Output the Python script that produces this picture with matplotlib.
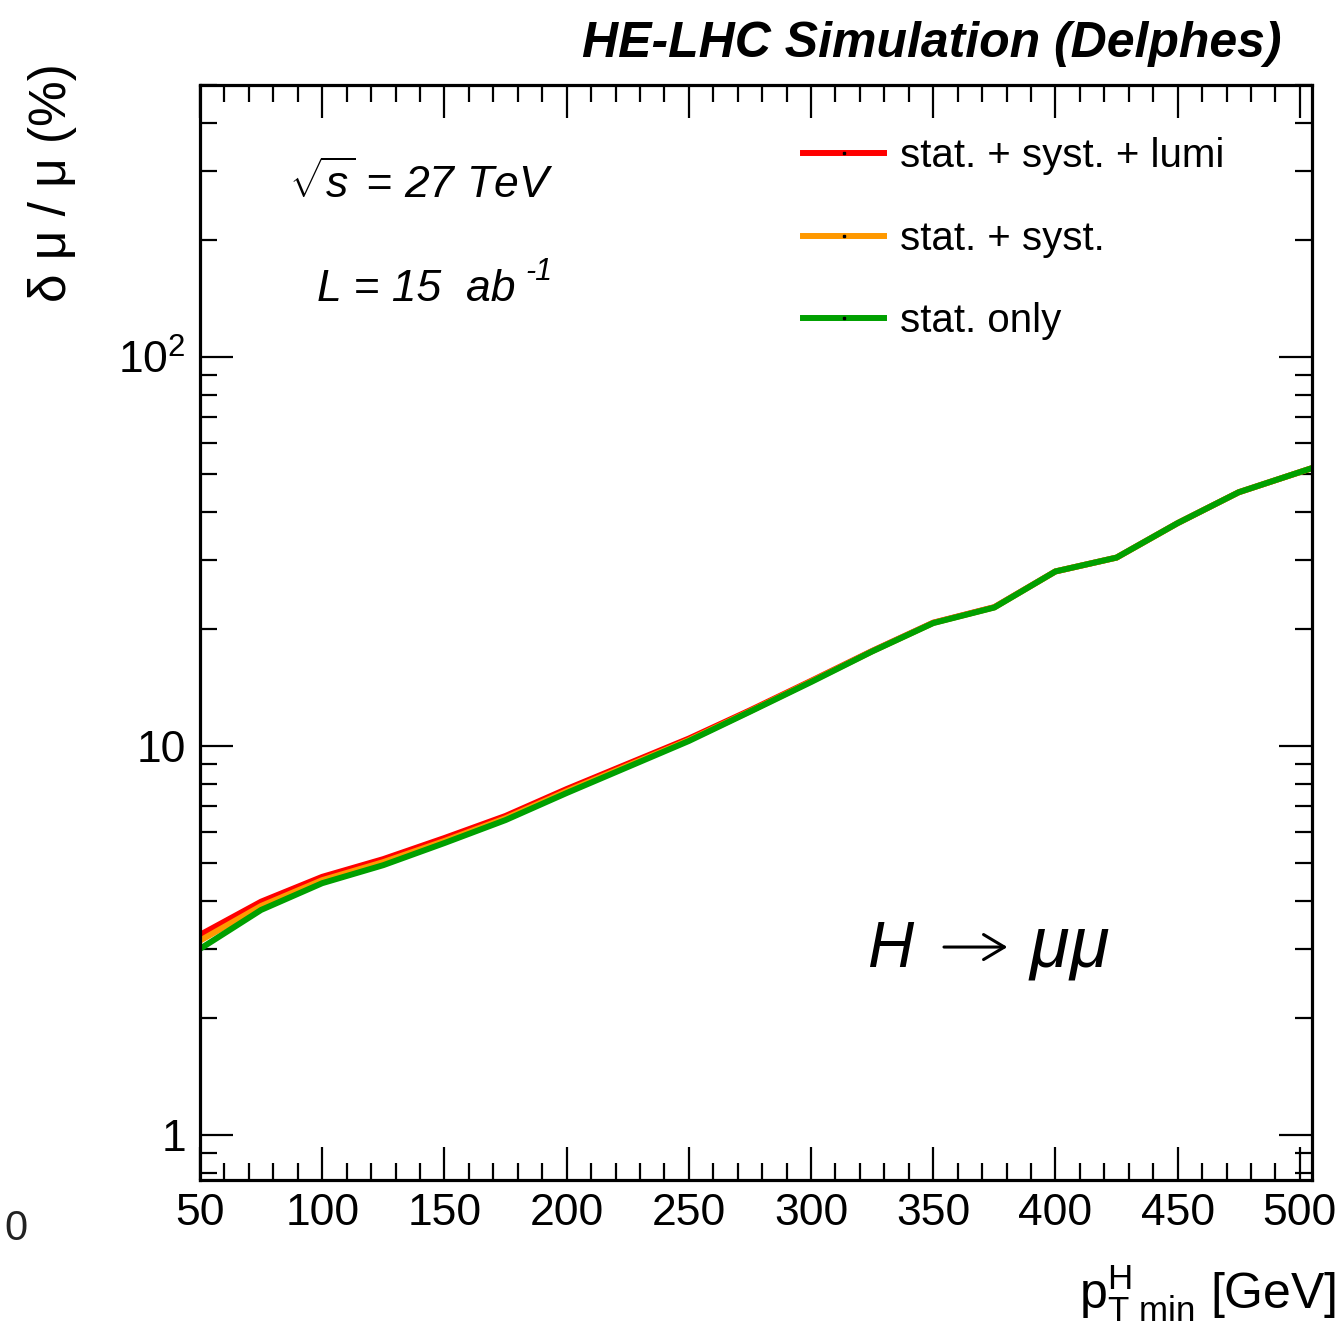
import matplotlib
matplotlib.use("Agg")
import matplotlib.pyplot as plt
from matplotlib.lines import Line2D
from matplotlib.ticker import MultipleLocator, LogLocator, FixedLocator, FixedFormatter, NullFormatter

plt.rcParams['font.family'] = ['Liberation Sans', 'DejaVu Sans']
plt.rcParams['mathtext.fontset'] = 'custom'
plt.rcParams['mathtext.rm'] = 'Liberation Sans'
plt.rcParams['mathtext.it'] = 'Liberation Sans:italic'
plt.rcParams['mathtext.bf'] = 'Liberation Sans:bold'

# pT(H) min thresholds [GeV] and relative uncertainty on mu [%]
pt_min = [50, 75, 100, 125, 150, 175, 200, 225, 250, 275, 300, 325,
          350, 375, 400, 425, 450, 475, 505]
stat_syst_lumi = [3.27, 3.98, 4.61, 5.12, 5.80, 6.61, 7.75, 9.00, 10.45, 12.35, 14.7, 17.55,
                  20.75, 22.75, 28.1, 30.5, 37.4, 44.9, 51.8]
stat_syst = [3.16, 3.88, 4.52, 5.03, 5.70, 6.52, 7.65, 8.90, 10.35, 12.28, 14.65, 17.52,
             20.72, 22.72, 28.1, 30.5, 37.4, 44.9, 51.8]
stat_only = [3.01, 3.79, 4.44, 4.94, 5.63, 6.45, 7.57, 8.83, 10.30, 12.25, 14.6, 17.5,
             20.7, 22.7, 28.1, 30.5, 37.4, 44.9, 51.8]

labels = ['stat. + syst. + lumi', 'stat. + syst.', 'stat. only']
colors = ['#ff0000', '#ff9900', '#00a000']

fig = plt.figure(figsize=(13.38, 13.31), dpi=100)
ax = fig.add_axes([0.1495, 0.1134, 0.9806 - 0.1495, 0.9361 - 0.1134])

for ys, c in zip([stat_syst_lumi, stat_syst, stat_only], colors):
    ax.plot(pt_min, ys, color=c, lw=4.3, solid_joinstyle='miter')

ax.set_yscale('log')
ax.set_xlim(50, 505)
ax.set_ylim(0.766, 500)

ax.xaxis.set_major_locator(MultipleLocator(50))
ax.xaxis.set_minor_locator(MultipleLocator(10))
ax.yaxis.set_major_locator(FixedLocator([1, 10, 100]))
ax.yaxis.set_major_formatter(FixedFormatter(['1', '10', r'$\mathregular{10^{2}}$']))
ax.yaxis.set_minor_locator(LogLocator(base=10, subs=range(2, 10)))
ax.yaxis.set_minor_formatter(NullFormatter())

ax.tick_params(which='both', direction='in', top=True, right=True, width=1.6, labelsize=32)
ax.tick_params(which='major', length=24)
ax.tick_params(which='minor', length=12)
ax.tick_params(axis='x', pad=9)
ax.tick_params(axis='y', pad=10)
for s in ax.spines.values():
    s.set_linewidth(2.3)

ax.set_ylabel('δ μ / μ (%)', fontsize=37, ha='right')
ax.yaxis.set_label_coords(-0.111, 1.02)
fig.text(0.9985, 0.017, r'$\mathregular{p^{H}_{T\ min}}$ [GeV]', fontsize=36, ha='right', va='baseline')

fig.text(0.958, 0.957, 'HE-LHC Simulation (Delphes)', fontsize=36, fontweight='bold',
         fontstyle='italic', ha='right', va='baseline')

ax.text(0.08, 0.897, r'$\sqrt{s}$ = 27 TeV', transform=ax.transAxes, fontsize=32,
        fontstyle='italic', va='baseline')
ax.text(0.105, 0.803, 'L = 15  ab', transform=ax.transAxes, fontsize=32,
        fontstyle='italic', va='baseline')
ax.text(0.293, 0.822, '-1', transform=ax.transAxes, fontsize=22,
        fontstyle='italic', va='baseline')

# H -> mu mu
ax.text(0.6, 0.195, 'H', transform=ax.transAxes, fontsize=46, fontstyle='italic', va='baseline')
ax.annotate('', xy=(0.726, 0.2128), xytext=(0.669, 0.2128), xycoords='axes fraction',
            arrowprops=dict(arrowstyle='->,head_length=0.5,head_width=0.3', lw=2.2,
                            color='k', mutation_scale=30, shrinkA=0, shrinkB=0))
ax.text(0.745, 0.195, r'$\mu\mu$', transform=ax.transAxes, fontsize=52, va='baseline')

fig.text(0.003, 0.068, '0', fontsize=30, color='#222222', va='baseline')

handles = [Line2D([], [], color=c, lw=4.3, marker='s', ms=2, mfc='k', mec='k') for c in colors]
ax.legend(handles, labels, loc='upper left', bbox_to_anchor=(0.528, 0.967), frameon=False,
          fontsize=29, handlelength=2.0, handletextpad=0.4, labelspacing=1.1, borderaxespad=0)

fig.savefig('out.png', dpi=100)
